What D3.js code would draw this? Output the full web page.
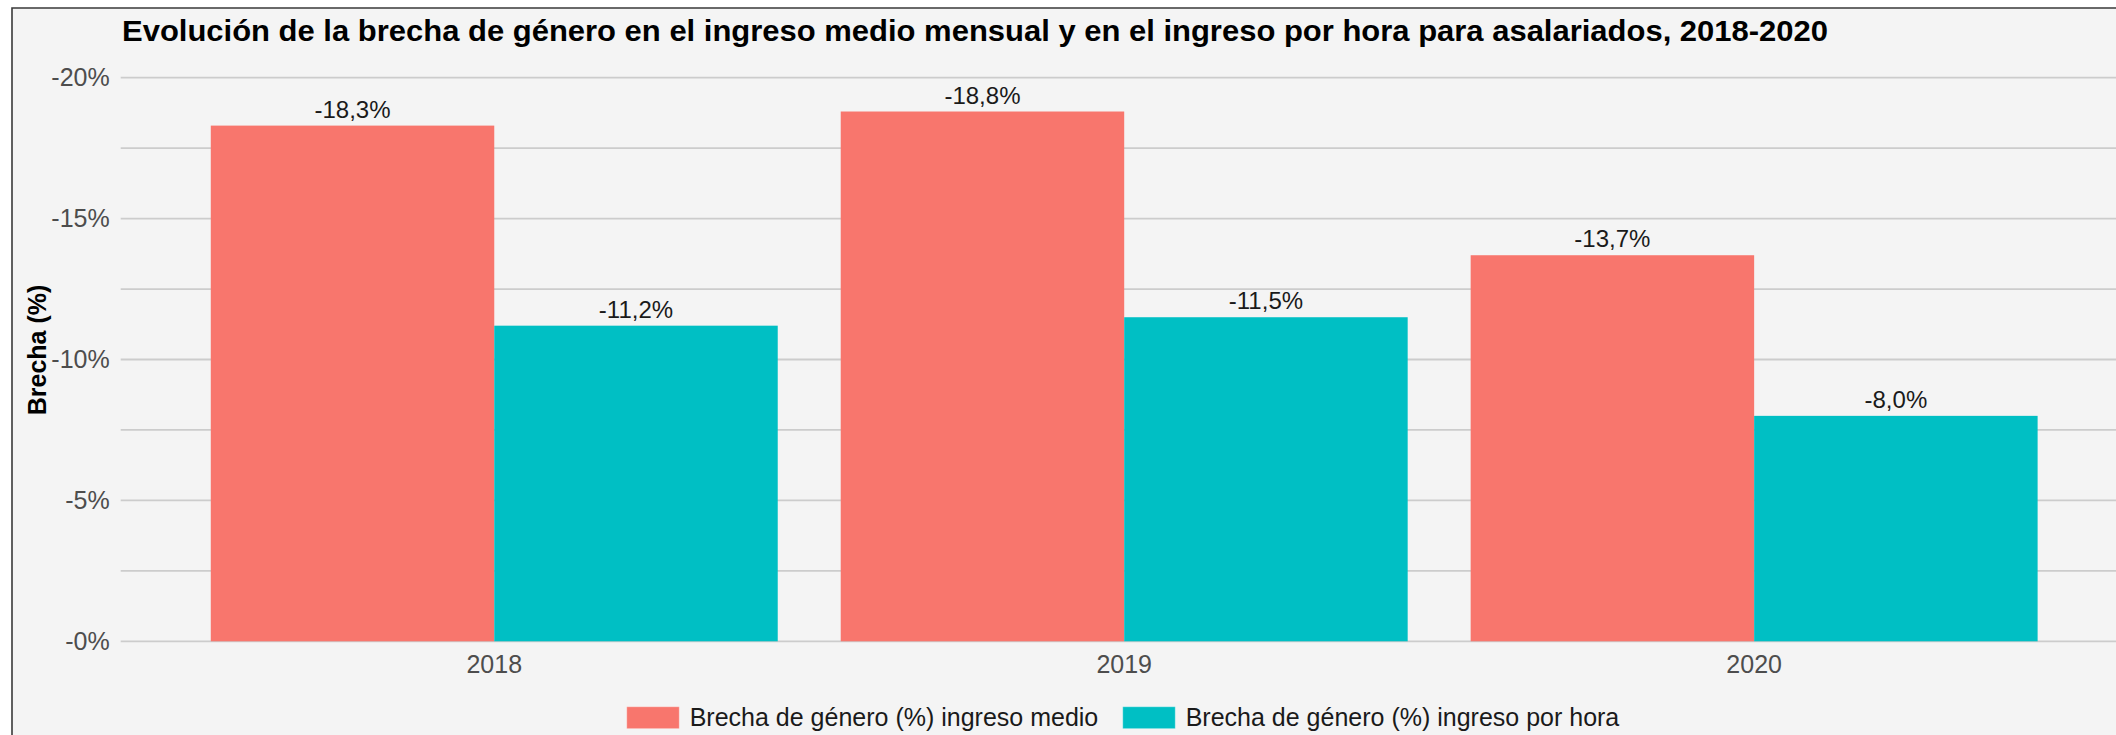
<!DOCTYPE html>
<html>
<head>
<meta charset="utf-8">
<script src="https://cdn.jsdelivr.net/npm/d3@7"></script>
<style>
  html, body { margin: 0; padding: 0; background: #ffffff; }
  svg { display: block; font-family: "Liberation Sans", Arial, sans-serif; }
</style>
</head>
<body>
<svg id="chart" width="2116" height="735"></svg>
<script>
// data
const years = ["2018", "2019", "2020"];
const seriesNames = ["Brecha de género (%) ingreso medio", "Brecha de género (%) ingreso por hora"];
const ingresoMedio = [-18.3, -18.8, -13.7];
const ingresoHora = [-11.2, -11.5, -8.0];
const yTicks = [0, -5, -10, -15, -20];
const yTickLabels = ["-0%", "-5%", "-10%", "-15%", "-20%"];
const yGrid = [0, -2.5, -5, -7.5, -10, -12.5, -15, -17.5, -20];
const colors = ["#F8766D", "#00BFC4"];

const title = "Evolución de la brecha de género en el ingreso medio mensual y en el ingreso por hora para asalariados, 2018-2020";

const svg = d3.select("#chart"),
    width = +svg.attr("width"),
    height = +svg.attr("height");

// panel background + border (top and left only, image is cropped)
svg.append("rect")
    .attr("x", 12).attr("y", 8)
    .attr("width", width - 12).attr("height", height - 8)
    .attr("fill", "#f4f4f4");
svg.append("path")
    .attr("d", `M12,${height} V8 H${width}`)
    .attr("fill", "none")
    .attr("stroke", "#3a3a3a")
    .attr("stroke-width", 1.6);

const plot = {left: 120.7, right: 2127.7, top: 77.7, bottom: 641.3};

const x = d3.scaleBand()
    .domain(years)
    .range([plot.left, plot.right])
    .paddingInner(0.1)
    .paddingOuter(0.143);

const x1 = d3.scaleBand()
    .domain([0, 1])
    .range([0, x.bandwidth()]);

const y = d3.scaleLinear()
    .domain([0, -20])
    .range([plot.bottom, plot.top]);

// gridlines
svg.append("g")
    .selectAll("line")
    .data(yGrid)
    .join("line")
    .attr("x1", plot.left)
    .attr("x2", plot.right)
    .attr("y1", d => y(d))
    .attr("y2", d => y(d))
    .attr("stroke", "#cccccc")
    .attr("stroke-width", 1.8);

// y axis labels
const yAxis = d3.axisLeft(y)
    .tickValues(yTicks)
    .tickFormat((d, i) => yTickLabels[i])
    .tickSize(0)
    .tickPadding(11);

const gy = svg.append("g")
    .attr("transform", `translate(${plot.left},0)`)
    .call(yAxis);
gy.select(".domain").remove();
gy.selectAll("text")
    .attr("fill", "#4d4d4d")
    .style("font-size", "25px")
    .style("font-family", "'Liberation Sans', Arial, sans-serif");

// x axis labels
const xAxis = d3.axisBottom(x).tickSize(0).tickPadding(14);
const gx = svg.append("g")
    .attr("transform", `translate(0,${plot.bottom})`)
    .call(xAxis);
gx.select(".domain").remove();
gx.selectAll("text")
    .attr("fill", "#4d4d4d")
    .style("font-size", "25px")
    .style("font-family", "'Liberation Sans', Arial, sans-serif");

// bars
const rows = years.map((yr, i) => ({
    year: yr,
    values: [ingresoMedio[i], ingresoHora[i]]
}));

const groups = svg.append("g")
    .selectAll("g")
    .data(rows)
    .join("g")
    .attr("transform", d => `translate(${x(d.year)},0)`);

groups.selectAll("rect")
    .data(d => d.values.map((v, k) => ({v, k})))
    .join("rect")
    .attr("x", d => x1(d.k))
    .attr("width", x1.bandwidth())
    .attr("y", d => y(d.v))
    .attr("height", d => y(0) - y(d.v))
    .attr("fill", d => colors[d.k]);

const fmt = d3.formatLocale({decimal: ",", thousands: ".", grouping: [3], currency: ["", ""], minus: "-"}).format(".1f");
groups.selectAll("text")
    .data(d => d.values.map((v, k) => ({v, k})))
    .join("text")
    .attr("x", d => x1(d.k) + x1.bandwidth() / 2)
    .attr("y", d => y(d.v) - 8)
    .attr("text-anchor", "middle")
    .attr("fill", "#1a1a1a")
    .style("font-size", "24px")
    .text(d => fmt(d.v) + "%");

// title
svg.append("text")
    .attr("x", 122)
    .attr("y", 41)
    .attr("fill", "#000")
    .style("font-size", "29px")
    .style("font-weight", "bold")
    .attr("textLength", 1706)
    .attr("lengthAdjust", "spacingAndGlyphs")
    .text(title);

// y title
svg.append("text")
    .attr("transform", "translate(46,350) rotate(-90)")
    .attr("text-anchor", "middle")
    .attr("fill", "#000")
    .style("font-size", "25px")
    .style("font-weight", "bold")
    .text("Brecha (%)");

// legend
const legendX = [626.7, 1122.7];
const legend = svg.append("g");
seriesNames.forEach((name, i) => {
    legend.append("rect")
        .attr("x", legendX[i])
        .attr("y", 706.7)
        .attr("width", 52.6)
        .attr("height", 22)
        .attr("fill", colors[i])
        .attr("stroke", "#ffffff")
        .attr("stroke-opacity", 0.4)
        .attr("stroke-width", 1);
    legend.append("text")
        .attr("x", legendX[i] + 63)
        .attr("y", 726)
        .attr("fill", "#1a1a1a")
        .style("font-size", "25px")
        .text(name);
});
</script>
</body>
</html>
